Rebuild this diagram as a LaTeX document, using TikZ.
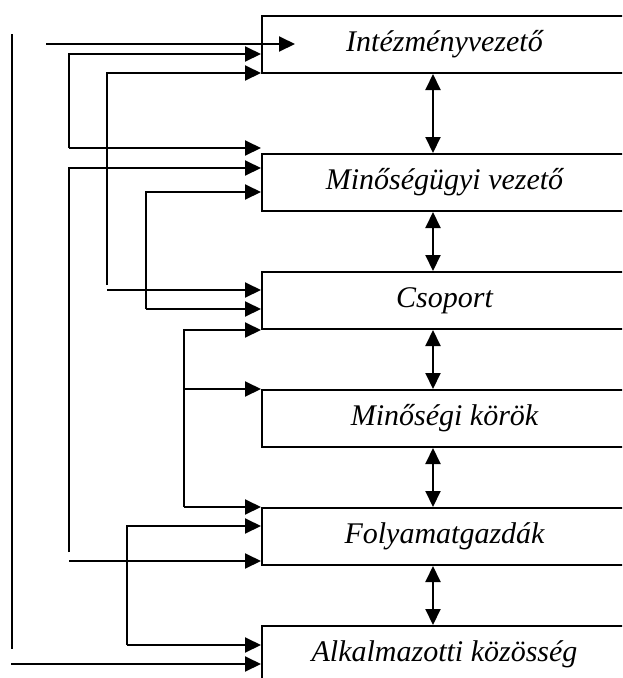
\documentclass[tikz,border=0pt]{standalone}
\usepackage{fontspec}
\setmainfont{Liberation Serif}
\usetikzlibrary{arrows.meta}
\begin{document}
\begin{tikzpicture}[x=1pt,y=-1pt,
  box/.style={draw,line width=2pt,minimum width=365pt,minimum height=57pt,anchor=north west,inner sep=0pt,font=\fontsize{30}{35}\selectfont\itshape},
  arr/.style={line width=2pt,-{Triangle[length=16pt,width=15pt]}},
  biarr/.style={line width=2pt,{Triangle[length=16pt,width=15pt]}-{Triangle[length=16pt,width=15pt]}},
  ln/.style={line width=2pt}]
\clip (0,0) rectangle (622,678);
% boxes
\node[box] (b1) at (261,15)  {Intézményvezető};
\node[box] (b2) at (261,153) {Minőségügyi vezető};
\node[box] (b3) at (261,271) {Csoport};
\node[box] (b4) at (261,389) {Minőségi körök};
\node[box] (b5) at (261,507) {Folyamatgazdák};
\node[box] (b6) at (261,625) {Alkalmazotti közösség};
% vertical bidirectional arrows
\coordinate (ax) at (433,0);
\draw[biarr] (b1.south -| ax) -- (b2.north -| ax);
\draw[biarr] (b2.south -| ax) -- (b3.north -| ax);
\draw[biarr] (b3.south -| ax) -- (b4.north -| ax);
\draw[biarr] (b4.south -| ax) -- (b5.north -| ax);
\draw[biarr] (b5.south -| ax) -- (b6.north -| ax);
% left connectors
\coordinate (t0) at (46,44);
\coordinate (t1) at (295,44);
\draw[arr] (t0) -- (t1);
\coordinate (a0) at (12,34);
\coordinate (a1) at (12,649);
\draw[ln] (a0) -- (a1);
% B
\coordinate (B0) at (69,54);
\coordinate (B1) at (69,148);
\draw[arr] (B1) -- (B1 -| b2.west);
\draw[arr] (B1) -- (B0) -- (B0 -| b1.west);
% C
\coordinate (C0) at (69,168);
\coordinate (C1) at (69,552);
\coordinate (C2) at (69,561);
\draw[arr] (C1) -- (C0) -- (C0 -| b2.west);
\draw[arr] (C2) -- (C2 -| b5.west);
% D
\coordinate (D0) at (107,73);
\coordinate (D1) at (107,285);
\coordinate (D2) at (107,290);
\draw[arr] (D1) -- (D0) -- (D0 -| b1.west);
\draw[arr] (D2) -- (D2 -| b3.west);
% E
\coordinate (E0) at (146,192);
\coordinate (E1) at (146,309);
\draw[arr] (E1) -- (E0) -- (E0 -| b2.west);
\draw[arr] (E1) -- (E1 -| b3.west);
% F
\coordinate (F0) at (184,330);
\coordinate (F1) at (184,389);
\coordinate (F2) at (184,507);
\draw[arr] (F2) -- (F0) -- (F0 -| b3.west);
\draw[arr] (F1) -- (F1 -| b4.west);
\draw[arr] (F2) -- (F2 -| b5.west);
% G
\coordinate (G0) at (127,526);
\coordinate (G1) at (127,645);
\draw[arr] (G1) -- (G0) -- (G0 -| b5.west);
\draw[arr] (G1) -- (G1 -| b6.west);
% bottom
\coordinate (H0) at (11,664);
\draw[arr] (H0) -- (H0 -| b6.west);
\end{tikzpicture}
\end{document}
